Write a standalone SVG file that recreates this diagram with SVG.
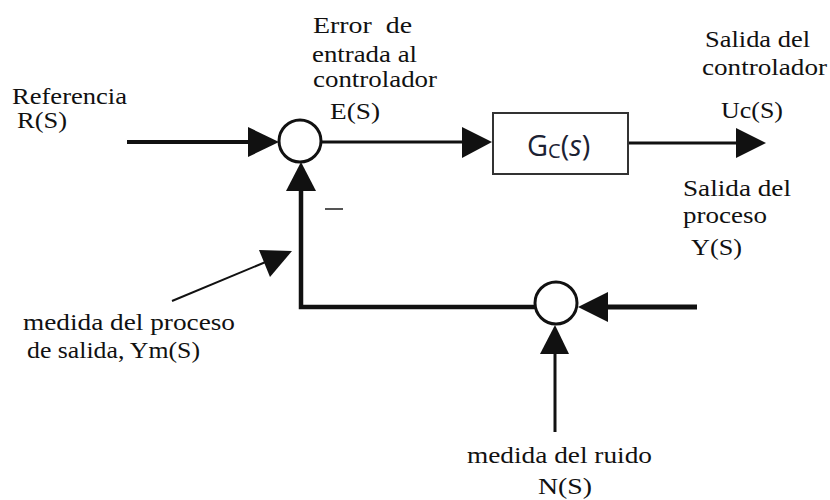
<svg xmlns="http://www.w3.org/2000/svg" width="830" height="500" viewBox="0 0 830 500">
  <style>
    .lbl { font-family: "Liberation Serif", "Times New Roman", serif; font-size: 24px; fill: #111; }
    .wire { stroke: #111; fill: none; stroke-linecap: butt; stroke-linejoin: miter; }
    .head { fill: #111; stroke: none; }
    .sum { fill: #fff; stroke: #111; stroke-width: 3; }
    .block { fill: #fff; stroke: #333; stroke-width: 2; }
    .tf { font-family: "Open Sans", "Noto Sans", sans-serif; fill: #1c2233; }
  </style>
  <rect width="830" height="500" fill="#fff"/>

  <!-- connectors -->
  <g id="connectors">
    <!-- reference input -->
    <line class="wire" x1="127" y1="142" x2="252" y2="142" stroke-width="4"/>
    <polygon class="head" points="279,142 248,127 248,157"/>
    <!-- error to controller -->
    <line class="wire" x1="321" y1="142" x2="465" y2="142" stroke-width="3"/>
    <polygon class="head" points="492,142 462,127 462,158"/>
    <!-- controller output -->
    <line class="wire" x1="628" y1="143" x2="740" y2="143" stroke-width="3"/>
    <polygon class="head" points="766,143 736,128 736,158"/>
    <!-- measured output fed back -->
    <polyline class="wire" points="536,307 301,307 301,188" stroke-width="4.5"/>
    <polygon class="head" points="301,162 286,191 316,191"/>
    <!-- process output into measurement -->
    <line class="wire" x1="697" y1="307" x2="604" y2="307" stroke-width="5"/>
    <polygon class="head" points="578,307 608,292 608,322"/>
    <!-- measurement noise -->
    <line class="wire" x1="555" y1="432" x2="555" y2="350" stroke-width="3"/>
    <polygon class="head" points="555,325 540,354 569,354"/>
    <!-- pointer to the feedback path -->
    <line class="wire" x1="172" y1="301" x2="268" y2="261" stroke-width="2"/>
    <polygon class="head" points="292,251 259,250 270,277"/>
    <!-- minus sign at the feedback input -->
    <line x1="325" y1="209" x2="343" y2="209" stroke="#555" stroke-width="2"/>
  </g>

  <!-- summing junction: error -->
  <g id="sum-error">
    <circle class="sum" cx="300" cy="141" r="21"/>
  </g>

  <!-- summing junction: noise -->
  <g id="sum-noise">
    <circle class="sum" cx="556" cy="303" r="21"/>
  </g>

  <!-- controller block -->
  <g id="controller">
    <rect class="block" x="493" y="113" width="135" height="61"/>
    <text class="tf" x="527" y="156" font-size="29"><tspan>G</tspan><tspan font-size="20" dy="2">C</tspan><tspan dy="-2">(</tspan><tspan font-style="italic">s</tspan><tspan>)</tspan></text>
  </g>

  <!-- labels -->
  <g id="label-reference">
    <text class="lbl" x="12" y="104" textLength="115" lengthAdjust="spacingAndGlyphs">Referencia</text>
    <text class="lbl" x="17" y="128" textLength="50" lengthAdjust="spacingAndGlyphs">R(S)</text>
  </g>
  <g id="label-error">
    <text class="lbl" x="313" y="33" textLength="99" lengthAdjust="spacingAndGlyphs" xml:space="preserve">Error  de</text>
    <text class="lbl" x="312" y="62" textLength="105" lengthAdjust="spacingAndGlyphs">entrada al</text>
    <text class="lbl" x="313" y="87" textLength="124" lengthAdjust="spacingAndGlyphs">controlador</text>
    <text class="lbl" x="330" y="119" textLength="50" lengthAdjust="spacingAndGlyphs">E(S)</text>
  </g>
  <g id="label-controller-output">
    <text class="lbl" x="705" y="47" textLength="105" lengthAdjust="spacingAndGlyphs">Salida del</text>
    <text class="lbl" x="702" y="75" textLength="125" lengthAdjust="spacingAndGlyphs">controlador</text>
    <text class="lbl" x="721" y="118" textLength="62" lengthAdjust="spacingAndGlyphs">Uc(S)</text>
  </g>
  <g id="label-process-output">
    <text class="lbl" x="683" y="196" textLength="108" lengthAdjust="spacingAndGlyphs">Salida del</text>
    <text class="lbl" x="683" y="223" textLength="84" lengthAdjust="spacingAndGlyphs">proceso</text>
    <text class="lbl" x="691" y="255" textLength="51" lengthAdjust="spacingAndGlyphs">Y(S)</text>
  </g>
  <g id="label-measured-output">
    <text class="lbl" x="23" y="330" textLength="212" lengthAdjust="spacingAndGlyphs">medida del proceso</text>
    <text class="lbl" x="27" y="358" textLength="173" lengthAdjust="spacingAndGlyphs">de salida, Ym(S)</text>
  </g>
  <g id="label-noise">
    <text class="lbl" x="467" y="463" textLength="185" lengthAdjust="spacingAndGlyphs">medida del ruido</text>
    <text class="lbl" x="538" y="494" textLength="54" lengthAdjust="spacingAndGlyphs">N(S)</text>
  </g>
</svg>
